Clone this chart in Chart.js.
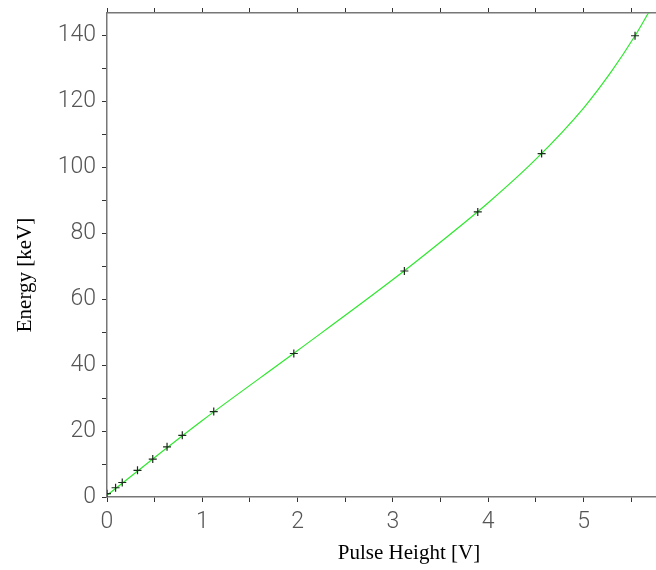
<!DOCTYPE html>
<html>
<head>
<meta charset="utf-8">
<script src="https://cdn.jsdelivr.net/npm/chart.js@4/dist/chart.umd.min.js"></script>
<style>
  html, body { margin: 0; padding: 0; background: #fff; }
  canvas { display: block; }
</style>
</head>
<body>
<canvas id="calibChart" width="656" height="570"></canvas>
<script>
// measured calibration points (pulse height in V, energy in keV)
const pulseHeight = [0.0, 0.09, 0.16, 0.32, 0.48, 0.63, 0.79, 1.12, 1.96, 3.12, 3.89, 4.56, 5.54];
const energy = [1.0, 2.8, 4.4, 8.1, 11.5, 15.2, 18.7, 25.9, 43.5, 68.5, 86.4, 104.1, 139.8];

// fitted curve
const fitX = [0.0, 0.5, 1.0, 2.0, 3.0, 3.5, 4.0, 4.5, 5.0, 5.3, 5.54, 5.68];
const fitY = [0.5, 12.0, 23.2, 44.4, 65.9, 77.3, 89.2, 102.4, 117.9, 129.3, 139.8, 146.7];

const xTitle = 'Pulse Height [V]';
const yTitle = 'Energy [keV]';

const X_MAX = 5.76;
const Y_MAX = 146.7;

const toXY = (xs, ys) => xs.map((x, i) => ({ x: x, y: ys[i] }));

const tickFont = { family: 'Roboto', size: 23, weight: '300' };

// fix box size and drop the label padding chart.js adds
function fixBox(size, horizontal) {
    return function (scale) {
        if (horizontal) scale.height = size; else scale.width = size;
        scale.paddingTop = 0;
        scale.paddingBottom = 0;
        scale.paddingLeft = 0;
        scale.paddingRight = 0;
    };
}

// axis titles drawn as text at their own spot
const axisTitles = {
    id: 'axisTitles',
    afterDraw(chart) {
        const ctx = chart.ctx;
        ctx.save();
        ctx.fillStyle = '#000';
        ctx.font = '21px "Liberation Serif"';
        ctx.textAlign = 'center';
        ctx.textBaseline = 'middle';
        ctx.fillText(xTitle, 409, 553);
        ctx.translate(25, 275);
        ctx.rotate(-Math.PI / 2);
        ctx.fillText(yTitle, 0, 0);
        ctx.restore();
    }
};

new Chart(document.getElementById('calibChart'), {
    type: 'scatter',
    data: {
        datasets: [
            {
                label: 'fit',
                type: 'line',
                data: toXY(fitX, fitY),
                borderColor: '#2ee82e',
                borderWidth: 1.2,
                pointRadius: 0,
                cubicInterpolationMode: 'monotone',
                fill: false,
                order: 2
            },
            {
                label: 'data',
                data: toXY(pulseHeight, energy),
                pointStyle: 'cross',
                pointRadius: 4,
                borderColor: '#1a2a1a',
                borderWidth: 1.2,
                backgroundColor: '#1a2a1a',
                order: 1
            }
        ]
    },
    options: {
        responsive: false,
        animation: false,
        layout: { padding: 0, autoPadding: false },
        plugins: {
            legend: { display: false },
            tooltip: { enabled: false }
        },
        scales: {
            x: {
                type: 'linear',
                position: 'bottom',
                min: 0,
                max: X_MAX,
                afterFit: fixBox(73, true),
                border: { color: '#777', width: 1.5 },
                grid: { drawOnChartArea: false, drawTicks: true, tickLength: 5, color: '#333' },
                ticks: {
                    stepSize: 0.5,
                    includeBounds: false,
                    autoSkip: false,
                    maxRotation: 0,
                    padding: 6,
                    color: '#555',
                    font: tickFont,
                    callback: function (v) { return Number.isInteger(v) ? String(v) : ''; }
                }
            },
            x2: {
                type: 'linear',
                position: 'top',
                min: 0,
                max: X_MAX,
                afterFit: fixBox(13, true),
                border: { color: '#777', width: 1.5 },
                grid: { drawOnChartArea: false, drawTicks: true, tickLength: 5, color: '#333' },
                ticks: {
                    stepSize: 0.5,
                    includeBounds: false,
                    autoSkip: false,
                    maxRotation: 0,
                    callback: function () { return ''; }
                }
            },
            y: {
                type: 'linear',
                min: 0,
                max: Y_MAX,
                afterFit: fixBox(107, false),
                border: { color: '#777', width: 1.5 },
                grid: { drawOnChartArea: false, drawTicks: true, tickLength: 5, color: '#333' },
                ticks: {
                    stepSize: 10,
                    includeBounds: false,
                    autoSkip: false,
                    padding: 6,
                    color: '#555',
                    font: tickFont,
                    callback: function (v) { return v % 20 === 0 ? String(v) : ''; }
                }
            }
        }
    },
    plugins: [axisTitles]
});
</script>
</body>
</html>
